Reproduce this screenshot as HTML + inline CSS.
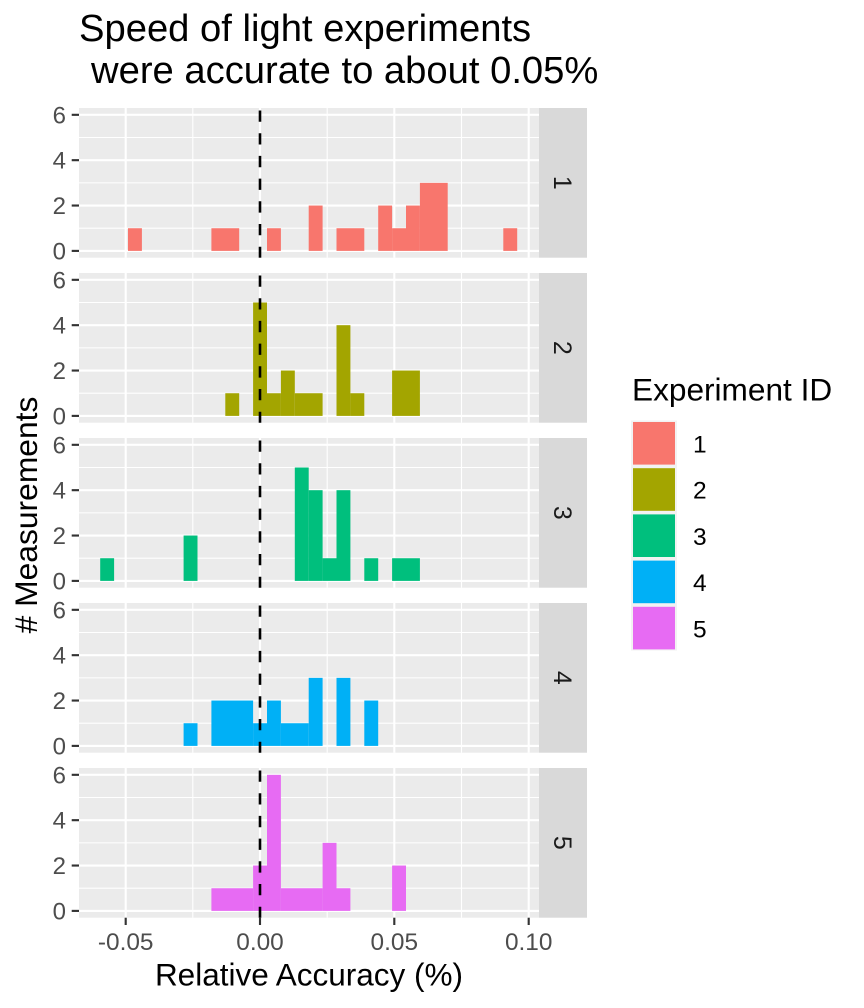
<!DOCTYPE html>
<html>
<head>
<meta charset="utf-8">
<style>
  html, body { margin: 0; padding: 0; background: #ffffff; }
  svg { display: block; }
  text { font-family: "Liberation Sans", Arial, sans-serif; }
</style>
</head>
<body>
<svg width="864" height="1008" viewBox="0 0 864 1008" xmlns="http://www.w3.org/2000/svg">
  <rect x="0" y="0" width="864" height="1008" fill="#ffffff"/>

  <!-- Title -->
  <text x="79" y="41" font-size="38.2" fill="#000">Speed of light experiments</text>
  <text x="91" y="83" font-size="38.2" fill="#000">were accurate to about 0.05%</text>

  <!-- Panel backgrounds + grids -->
  <g transform="translate(0,108)">
    <rect x="79" y="0" width="460" height="149.7" fill="#EBEBEB"/>
    <g stroke="#ffffff" stroke-width="1.07">
      <line x1="79" x2="539" y1="120.22" y2="120.22"/>
      <line x1="79" x2="539" y1="74.86" y2="74.86"/>
      <line x1="79" x2="539" y1="29.5" y2="29.5"/>
      <line x1="192.8" x2="192.8" y1="0" y2="149.7"/>
      <line x1="327.2" x2="327.2" y1="0" y2="149.7"/>
      <line x1="461.5" x2="461.5" y1="0" y2="149.7"/>
    </g>
    <g stroke="#ffffff" stroke-width="2.13">
      <line x1="79" x2="539" y1="142.9" y2="142.9"/>
      <line x1="79" x2="539" y1="97.54" y2="97.54"/>
      <line x1="79" x2="539" y1="52.18" y2="52.18"/>
      <line x1="79" x2="539" y1="6.82" y2="6.82"/>
      <line x1="125.7" x2="125.7" y1="0" y2="149.7"/>
      <line x1="260" x2="260" y1="0" y2="149.7"/>
      <line x1="394.3" x2="394.3" y1="0" y2="149.7"/>
      <line x1="528.7" x2="528.7" y1="0" y2="149.7"/>
    </g>
    <rect x="539" y="0" width="48" height="149.7" fill="#D9D9D9"/>
  </g>
  <g transform="translate(0,273)">
    <rect x="79" y="0" width="460" height="149.7" fill="#EBEBEB"/>
    <g stroke="#ffffff" stroke-width="1.07">
      <line x1="79" x2="539" y1="120.22" y2="120.22"/>
      <line x1="79" x2="539" y1="74.86" y2="74.86"/>
      <line x1="79" x2="539" y1="29.5" y2="29.5"/>
      <line x1="192.8" x2="192.8" y1="0" y2="149.7"/>
      <line x1="327.2" x2="327.2" y1="0" y2="149.7"/>
      <line x1="461.5" x2="461.5" y1="0" y2="149.7"/>
    </g>
    <g stroke="#ffffff" stroke-width="2.13">
      <line x1="79" x2="539" y1="142.9" y2="142.9"/>
      <line x1="79" x2="539" y1="97.54" y2="97.54"/>
      <line x1="79" x2="539" y1="52.18" y2="52.18"/>
      <line x1="79" x2="539" y1="6.82" y2="6.82"/>
      <line x1="125.7" x2="125.7" y1="0" y2="149.7"/>
      <line x1="260" x2="260" y1="0" y2="149.7"/>
      <line x1="394.3" x2="394.3" y1="0" y2="149.7"/>
      <line x1="528.7" x2="528.7" y1="0" y2="149.7"/>
    </g>
    <rect x="539" y="0" width="48" height="149.7" fill="#D9D9D9"/>
  </g>
  <g transform="translate(0,438)">
    <rect x="79" y="0" width="460" height="149.7" fill="#EBEBEB"/>
    <g stroke="#ffffff" stroke-width="1.07">
      <line x1="79" x2="539" y1="120.22" y2="120.22"/>
      <line x1="79" x2="539" y1="74.86" y2="74.86"/>
      <line x1="79" x2="539" y1="29.5" y2="29.5"/>
      <line x1="192.8" x2="192.8" y1="0" y2="149.7"/>
      <line x1="327.2" x2="327.2" y1="0" y2="149.7"/>
      <line x1="461.5" x2="461.5" y1="0" y2="149.7"/>
    </g>
    <g stroke="#ffffff" stroke-width="2.13">
      <line x1="79" x2="539" y1="142.9" y2="142.9"/>
      <line x1="79" x2="539" y1="97.54" y2="97.54"/>
      <line x1="79" x2="539" y1="52.18" y2="52.18"/>
      <line x1="79" x2="539" y1="6.82" y2="6.82"/>
      <line x1="125.7" x2="125.7" y1="0" y2="149.7"/>
      <line x1="260" x2="260" y1="0" y2="149.7"/>
      <line x1="394.3" x2="394.3" y1="0" y2="149.7"/>
      <line x1="528.7" x2="528.7" y1="0" y2="149.7"/>
    </g>
    <rect x="539" y="0" width="48" height="149.7" fill="#D9D9D9"/>
  </g>
  <g transform="translate(0,603)">
    <rect x="79" y="0" width="460" height="149.7" fill="#EBEBEB"/>
    <g stroke="#ffffff" stroke-width="1.07">
      <line x1="79" x2="539" y1="120.22" y2="120.22"/>
      <line x1="79" x2="539" y1="74.86" y2="74.86"/>
      <line x1="79" x2="539" y1="29.5" y2="29.5"/>
      <line x1="192.8" x2="192.8" y1="0" y2="149.7"/>
      <line x1="327.2" x2="327.2" y1="0" y2="149.7"/>
      <line x1="461.5" x2="461.5" y1="0" y2="149.7"/>
    </g>
    <g stroke="#ffffff" stroke-width="2.13">
      <line x1="79" x2="539" y1="142.9" y2="142.9"/>
      <line x1="79" x2="539" y1="97.54" y2="97.54"/>
      <line x1="79" x2="539" y1="52.18" y2="52.18"/>
      <line x1="79" x2="539" y1="6.82" y2="6.82"/>
      <line x1="125.7" x2="125.7" y1="0" y2="149.7"/>
      <line x1="260" x2="260" y1="0" y2="149.7"/>
      <line x1="394.3" x2="394.3" y1="0" y2="149.7"/>
      <line x1="528.7" x2="528.7" y1="0" y2="149.7"/>
    </g>
    <rect x="539" y="0" width="48" height="149.7" fill="#D9D9D9"/>
  </g>
  <g transform="translate(0,768)">
    <rect x="79" y="0" width="460" height="149.7" fill="#EBEBEB"/>
    <g stroke="#ffffff" stroke-width="1.07">
      <line x1="79" x2="539" y1="120.22" y2="120.22"/>
      <line x1="79" x2="539" y1="74.86" y2="74.86"/>
      <line x1="79" x2="539" y1="29.5" y2="29.5"/>
      <line x1="192.8" x2="192.8" y1="0" y2="149.7"/>
      <line x1="327.2" x2="327.2" y1="0" y2="149.7"/>
      <line x1="461.5" x2="461.5" y1="0" y2="149.7"/>
    </g>
    <g stroke="#ffffff" stroke-width="2.13">
      <line x1="79" x2="539" y1="142.9" y2="142.9"/>
      <line x1="79" x2="539" y1="97.54" y2="97.54"/>
      <line x1="79" x2="539" y1="52.18" y2="52.18"/>
      <line x1="79" x2="539" y1="6.82" y2="6.82"/>
      <line x1="125.7" x2="125.7" y1="0" y2="149.7"/>
      <line x1="260" x2="260" y1="0" y2="149.7"/>
      <line x1="394.3" x2="394.3" y1="0" y2="149.7"/>
      <line x1="528.7" x2="528.7" y1="0" y2="149.7"/>
    </g>
    <rect x="539" y="0" width="48" height="149.7" fill="#D9D9D9"/>
  </g>

  <!-- Bars panel 1 -->
  <g fill="#F8766D">
    <rect x="128" y="228.22" width="13.9" height="22.68"/>
    <rect x="211.4" y="228.22" width="27.8" height="22.68"/>
    <rect x="267" y="228.22" width="13.9" height="22.68"/>
    <rect x="308.7" y="205.54" width="13.9" height="45.36"/>
    <rect x="336.5" y="228.22" width="27.8" height="22.68"/>
    <rect x="378.2" y="205.54" width="13.9" height="45.36"/>
    <rect x="392.1" y="228.22" width="13.9" height="22.68"/>
    <rect x="406" y="205.54" width="13.9" height="45.36"/>
    <rect x="419.9" y="182.86" width="27.8" height="68.04"/>
    <rect x="503.3" y="228.22" width="13.9" height="22.68"/>
  </g>
  <!-- Bars panel 2 -->
  <g fill="#A3A500">
    <rect x="225.3" y="393.22" width="13.9" height="22.68"/>
    <rect x="253.1" y="302.5" width="13.9" height="113.4"/>
    <rect x="267" y="393.22" width="13.9" height="22.68"/>
    <rect x="280.9" y="370.54" width="13.9" height="45.36"/>
    <rect x="294.8" y="393.22" width="27.8" height="22.68"/>
    <rect x="336.5" y="325.18" width="13.9" height="90.72"/>
    <rect x="350.4" y="393.22" width="13.9" height="22.68"/>
    <rect x="392.1" y="370.54" width="27.8" height="45.36"/>
  </g>
  <!-- Bars panel 3 -->
  <g fill="#00BF7D">
    <rect x="100.2" y="558.22" width="13.9" height="22.68"/>
    <rect x="183.6" y="535.54" width="13.9" height="45.36"/>
    <rect x="294.8" y="467.5" width="13.9" height="113.4"/>
    <rect x="308.7" y="490.18" width="13.9" height="90.72"/>
    <rect x="322.6" y="558.22" width="13.9" height="22.68"/>
    <rect x="336.5" y="490.18" width="13.9" height="90.72"/>
    <rect x="364.3" y="558.22" width="13.9" height="22.68"/>
    <rect x="392.1" y="558.22" width="27.8" height="22.68"/>
  </g>
  <!-- Bars panel 4 -->
  <g fill="#00B0F6">
    <rect x="183.6" y="723.22" width="13.9" height="22.68"/>
    <rect x="211.4" y="700.54" width="41.7" height="45.36"/>
    <rect x="253.1" y="723.22" width="13.9" height="22.68"/>
    <rect x="267" y="700.54" width="13.9" height="45.36"/>
    <rect x="280.9" y="723.22" width="27.8" height="22.68"/>
    <rect x="308.7" y="677.86" width="13.9" height="68.04"/>
    <rect x="336.5" y="677.86" width="13.9" height="68.04"/>
    <rect x="364.3" y="700.54" width="13.9" height="45.36"/>
  </g>
  <!-- Bars panel 5 -->
  <g fill="#E76BF3">
    <rect x="211.4" y="888.22" width="41.7" height="22.68"/>
    <rect x="253.1" y="865.54" width="13.9" height="45.36"/>
    <rect x="267" y="774.82" width="13.9" height="136.08"/>
    <rect x="280.9" y="888.22" width="41.7" height="22.68"/>
    <rect x="322.6" y="842.86" width="13.9" height="68.04"/>
    <rect x="336.5" y="888.22" width="13.9" height="22.68"/>
    <rect x="392.1" y="865.54" width="13.9" height="45.36"/>
  </g>

  <!-- Dashed vertical line at 0 -->
  <g stroke="#000" stroke-width="2.6" stroke-dasharray="11.3 11.4" fill="none">
    <line x1="260" x2="260" y1="110.5" y2="257.7"/>
    <line x1="260" x2="260" y1="275.5" y2="422.7"/>
    <line x1="260" x2="260" y1="440.5" y2="587.7"/>
    <line x1="260" x2="260" y1="605.5" y2="752.7"/>
    <line x1="260" x2="260" y1="770.5" y2="917.7"/>
  </g>

  <!-- Strip labels -->
  <g font-size="25" fill="#1A1A1A" text-anchor="middle">
    <text transform="translate(563,182.85) rotate(90)" x="0" y="9">1</text>
    <text transform="translate(563,347.85) rotate(90)" x="0" y="9">2</text>
    <text transform="translate(563,512.85) rotate(90)" x="0" y="9">3</text>
    <text transform="translate(563,677.85) rotate(90)" x="0" y="9">4</text>
    <text transform="translate(563,842.85) rotate(90)" x="0" y="9">5</text>
  </g>

  <!-- Y ticks -->
  <g stroke="#333333" stroke-width="2.13">
    <line x1="71.7" x2="79" y1="250.9" y2="250.9"/><line x1="71.7" x2="79" y1="205.54" y2="205.54"/><line x1="71.7" x2="79" y1="160.18" y2="160.18"/><line x1="71.7" x2="79" y1="114.82" y2="114.82"/>
    <line x1="71.7" x2="79" y1="415.9" y2="415.9"/><line x1="71.7" x2="79" y1="370.54" y2="370.54"/><line x1="71.7" x2="79" y1="325.18" y2="325.18"/><line x1="71.7" x2="79" y1="279.82" y2="279.82"/>
    <line x1="71.7" x2="79" y1="580.9" y2="580.9"/><line x1="71.7" x2="79" y1="535.54" y2="535.54"/><line x1="71.7" x2="79" y1="490.18" y2="490.18"/><line x1="71.7" x2="79" y1="444.82" y2="444.82"/>
    <line x1="71.7" x2="79" y1="745.9" y2="745.9"/><line x1="71.7" x2="79" y1="700.54" y2="700.54"/><line x1="71.7" x2="79" y1="655.18" y2="655.18"/><line x1="71.7" x2="79" y1="609.82" y2="609.82"/>
    <line x1="71.7" x2="79" y1="910.9" y2="910.9"/><line x1="71.7" x2="79" y1="865.54" y2="865.54"/><line x1="71.7" x2="79" y1="820.18" y2="820.18"/><line x1="71.7" x2="79" y1="774.82" y2="774.82"/>
  </g>
  <g font-size="24" fill="#4D4D4D" text-anchor="end">
    <text x="66" y="259.4">0</text><text x="66" y="214">2</text><text x="66" y="168.7">4</text><text x="66" y="123.3">6</text>
    <text x="66" y="424.4">0</text><text x="66" y="379">2</text><text x="66" y="333.7">4</text><text x="66" y="288.3">6</text>
    <text x="66" y="589.4">0</text><text x="66" y="544">2</text><text x="66" y="498.7">4</text><text x="66" y="453.3">6</text>
    <text x="66" y="754.4">0</text><text x="66" y="709">2</text><text x="66" y="663.7">4</text><text x="66" y="618.3">6</text>
    <text x="66" y="919.4">0</text><text x="66" y="874">2</text><text x="66" y="828.7">4</text><text x="66" y="783.3">6</text>
  </g>

  <!-- X ticks -->
  <g stroke="#333333" stroke-width="2.13">
    <line x1="125.7" x2="125.7" y1="917.7" y2="925"/>
    <line x1="260" x2="260" y1="917.7" y2="925"/>
    <line x1="394.3" x2="394.3" y1="917.7" y2="925"/>
    <line x1="528.7" x2="528.7" y1="917.7" y2="925"/>
  </g>
  <g font-size="24.4" fill="#4D4D4D" text-anchor="middle">
    <text x="125.7" y="950">-0.05</text>
    <text x="260" y="950">0.00</text>
    <text x="394.3" y="950">0.05</text>
    <text x="528.7" y="950">0.10</text>
  </g>

  <!-- Axis titles -->
  <text x="309" y="985.7" font-size="31.5" fill="#000" text-anchor="middle">Relative Accuracy (%)</text>
  <text transform="translate(37,515) rotate(-90)" x="0" y="0" font-size="31.8" fill="#000" text-anchor="middle"># Measurements</text>

  <!-- Legend -->
  <text x="632" y="400.7" font-size="31.6" fill="#000">Experiment ID</text>
  <rect x="631" y="420.5" width="46" height="230" fill="#F2F2F2"/>
  <rect x="633" y="422" width="42" height="42.6" fill="#F8766D"/>
  <rect x="633" y="468.2" width="42" height="42.6" fill="#A3A500"/>
  <rect x="633" y="514.4" width="42" height="42.6" fill="#00BF7D"/>
  <rect x="633" y="560.6" width="42" height="42.6" fill="#00B0F6"/>
  <rect x="633" y="606.8" width="42" height="42.6" fill="#E76BF3"/>
  <g font-size="24.5" fill="#000">
    <text x="693" y="452.5">1</text>
    <text x="693" y="498.7">2</text>
    <text x="693" y="544.9">3</text>
    <text x="693" y="591.1">4</text>
    <text x="693" y="637.3">5</text>
  </g>
</svg>
</body>
</html>
